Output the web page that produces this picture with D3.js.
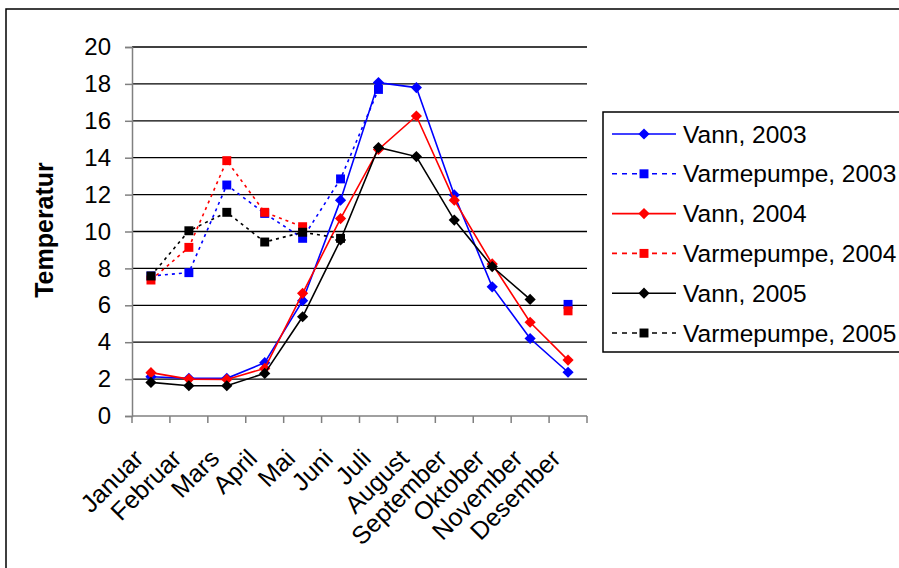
<!DOCTYPE html>
<html>
<head>
<meta charset="utf-8">
<script src="https://cdn.jsdelivr.net/npm/d3@7"></script>
<style>
  body { margin: 0; background: #fff; }
  text { font-family: "Liberation Sans", Arial, sans-serif; }
</style>
</head>
<body>
<div id="chart"></div>
<script>
// data
const months = ["Januar", "Februar", "Mars", "April", "Mai", "Juni", "Juli",
                "August", "September", "Oktober", "November", "Desember"];
const yTicks = [0, 2, 4, 6, 8, 10, 12, 14, 16, 18, 20];

const vann2003 = [2.13, 2.04, 2.04, 2.89, 6.25, 11.7, 18.07, 17.8, 11.98, 7.0, 4.2, 2.37];
const varme2003 = [7.59, 7.77, 12.52, 10.98, 9.63, 12.85, 17.7, null, null, null, null, 6.05];
const vann2004 = [2.35, 2.0, 1.98, 2.58, 6.65, 10.7, 14.45, 16.26, 11.7, 8.24, 5.08, 3.03];
const varme2004 = [7.37, 9.14, 13.84, 11.04, 10.26, null, null, null, null, null, null, 5.7];
const vann2005 = [1.82, 1.64, 1.64, 2.31, 5.38, 9.54, 14.55, 14.06, 10.62, 8.1, 6.32, null];
const varme2005 = [7.59, 10.04, 11.04, 9.43, 9.96, 9.63, null, null, null, null, null, null];

const seriesNames = ["Vann, 2003", "Varmepumpe, 2003", "Vann, 2004",
                     "Varmepumpe, 2004", "Vann, 2005", "Varmepumpe, 2005"];

const width = 899, height = 568;
const margin = {top: 47, right: 312, bottom: 152, left: 132};

const series = [
  {name: seriesNames[0], values: vann2003, color: "#0000ff", dashed: false},
  {name: seriesNames[1], values: varme2003, color: "#0000ff", dashed: true},
  {name: seriesNames[2], values: vann2004, color: "#ff0000", dashed: false},
  {name: seriesNames[3], values: varme2004, color: "#ff0000", dashed: true},
  {name: seriesNames[4], values: vann2005, color: "#000000", dashed: false},
  {name: seriesNames[5], values: varme2005, color: "#000000", dashed: true}
];

const svg = d3.select("#chart")
  .append("svg")
  .attr("width", width)
  .attr("height", height);

// outer chart frame
svg.append("rect")
  .attr("x", 6).attr("y", 9)
  .attr("width", 1000).attr("height", 1000)
  .attr("fill", "none")
  .attr("stroke", "#000")
  .attr("stroke-width", 1.5);

const xScale = d3.scaleBand()
  .domain(months)
  .range([margin.left, width - margin.right])
  .padding(0);

const yScale = d3.scaleLinear()
  .domain([0, 20])
  .range([height - margin.bottom, margin.top]);

// gridlines
svg.append("g")
  .selectAll("line")
  .data(yTicks.filter(d => d > 0))
  .enter()
  .append("line")
  .attr("x1", margin.left)
  .attr("x2", width - margin.right)
  .attr("y1", d => yScale(d))
  .attr("y2", d => yScale(d))
  .attr("stroke", "#000")
  .attr("stroke-width", 1.3);

// y axis
const yAxis = svg.append("g")
  .attr("transform", `translate(${margin.left},0)`)
  .call(d3.axisLeft(yScale).tickValues(yTicks).tickSize(7).tickPadding(14));
yAxis.selectAll("text").attr("font-size", "24px").attr("fill", "#000");
yAxis.selectAll("line").attr("stroke", "#808080").attr("stroke-width", 1.5);
yAxis.select(".domain").attr("stroke", "#808080").attr("stroke-width", 1.5);

// x axis line and boundary ticks
const x0 = xScale.range()[0], x1 = xScale.range()[1];
svg.append("line")
  .attr("x1", x0).attr("x2", x1)
  .attr("y1", yScale(0)).attr("y2", yScale(0))
  .attr("stroke", "#808080").attr("stroke-width", 1.5);
svg.append("g")
  .selectAll("line")
  .data(months.map(m => xScale(m)).concat([x1]))
  .enter()
  .append("line")
  .attr("x1", d => d).attr("x2", d => d)
  .attr("y1", yScale(0)).attr("y2", yScale(0) + 7)
  .attr("stroke", "#808080").attr("stroke-width", 1.5);

// rotated month labels
svg.append("g")
  .selectAll("text")
  .data(months)
  .enter()
  .append("text")
  .attr("transform", d => `translate(${xScale(d) + xScale.bandwidth() / 2 - 6},${yScale(0) + 44}) rotate(-45)`)
  .attr("text-anchor", "end")
  .attr("font-size", "25px")
  .attr("fill", "#000")
  .text(d => d);

// y title
svg.append("text")
  .attr("transform", `translate(53,230) rotate(-90)`)
  .attr("text-anchor", "middle")
  .attr("font-size", "25px")
  .attr("font-weight", "bold")
  .text("Temperatur");

const cx = (d, i) => xScale(months[i]) + xScale.bandwidth() / 2;

const line = d3.line()
  .defined(d => d != null)
  .x(cx)
  .y(d => yScale(d));

const diamond = d3.symbol().type(d3.symbolDiamond2).size(80);
const square = d3.symbol().type(d3.symbolSquare).size(80);

series.forEach(s => {
  const g = svg.append("g");
  g.append("path")
    .datum(s.values)
    .attr("d", line)
    .attr("fill", "none")
    .attr("stroke", s.color)
    .attr("stroke-width", 1.6)
    .attr("stroke-dasharray", s.dashed ? "3,4" : null);
  g.selectAll("path.mark")
    .data(s.values.map((v, i) => ({v, i})).filter(d => d.v != null))
    .enter()
    .append("path")
    .attr("class", "mark")
    .attr("d", s.dashed ? square : diamond)
    .attr("transform", d => `translate(${cx(d.v, d.i)},${yScale(d.v)})`)
    .attr("fill", s.color);
});

// legend
const legend = svg.append("g");
legend.append("rect")
  .attr("x", 603).attr("y", 112)
  .attr("width", 400).attr("height", 240)
  .attr("fill", "#fff")
  .attr("stroke", "#000")
  .attr("stroke-width", 1.5);

const item = legend.selectAll("g.item")
  .data(series)
  .enter()
  .append("g")
  .attr("class", "item")
  .attr("transform", (d, i) => `translate(0,${134 + i * 39.8})`);

item.append("line")
  .attr("x1", 612).attr("x2", 676)
  .attr("stroke", d => d.color)
  .attr("stroke-width", 1.6)
  .attr("stroke-dasharray", d => d.dashed ? "5,5" : null);

item.append("path")
  .attr("d", d => d.dashed ? square(d) : diamond(d))
  .attr("transform", "translate(644,0)")
  .attr("fill", d => d.color);

item.append("text")
  .attr("x", 683)
  .attr("dy", "0.35em")
  .attr("font-size", "24.5px")
  .attr("fill", "#000")
  .text(d => d.name);
</script>
</body>
</html>
